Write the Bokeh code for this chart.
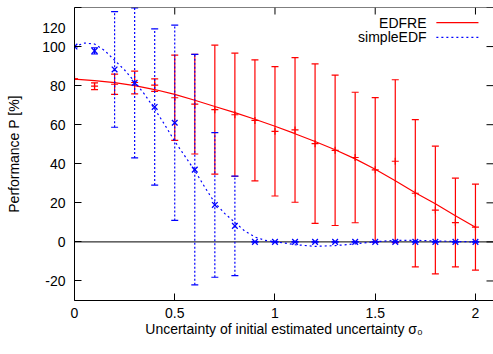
from bokeh.plotting import figure
from bokeh.models import (Range1d, FixedTicker, CustomJSTickFormatter,
                          ColumnDataSource, Span, Label, Arrow)
from bokeh.embed import file_html
from bokeh.resources import INLINE

# ---- data ----
x = [0.0, 0.1, 0.2, 0.3, 0.4, 0.5, 0.6, 0.7, 0.8, 0.9, 1.0,
     1.1, 1.2, 1.3, 1.4, 1.5, 1.6, 1.7, 1.8, 1.9, 2.0]
edfre = [83.3, 79.7, 80.7, 81.6, 80.3, 73.8, 70.5, 67.7, 65.1, 62.2, 56.6,
         57.3, 50.3, 46.9, 43.2, 36.9, 41.3, 24.9, 16.3, 9.9, 7.6]
edfre_err = [0, 1.7, 5.2, 5.8, 3.2, 21.8, 25.5, 33.0, 31.5, 31.0, 33.1,
             37.0, 40.8, 38.5, 33.4, 37.0, 41.7, 37.7, 32.7, 22.7, 22.0]
simple = [100.0, 97.8, 88.3, 81.4, 69.1, 61.0, 37.0, 18.9, 8.2, 0, 0,
          0, 0, 0, 0, 0, 0, 0, 0, 0, 0]
simple_err = [0, 1.6, 29.6, 38.4, 40.0, 50.0, 59.0, 37.0, 25.5, 0, 0,
              0, 0, 0, 0, 0, 0, 0, 0, 0, 0]

edfre_fit_x = [0.0, 0.1, 0.2, 0.3, 0.4, 0.5, 0.6, 0.7, 0.8, 0.9, 1.0,
               1.1, 1.2, 1.3, 1.4, 1.5, 1.6, 1.7, 1.8, 1.9, 2.0]
edfre_fit_y = [83.3, 82.6, 81.5, 80.0, 78.0, 75.5, 72.5, 69.3, 66.2, 62.8, 59.2,
               55.4, 51.4, 47.2, 42.5, 37.2, 31.3, 25.2, 19.5, 13.4, 7.5]
simple_fit_x = [0.0, 0.05, 0.1, 0.15, 0.2, 0.25, 0.3, 0.35, 0.4, 0.45, 0.5,
                0.55, 0.6, 0.65, 0.7, 0.75, 0.8, 0.85, 0.9, 0.95, 1.0,
                1.05, 1.1, 1.2, 1.3, 1.4, 1.5, 1.6, 1.7, 1.8, 1.9, 2.0]
simple_fit_y = [100.0, 101.8, 101.3, 98.0, 93.0, 88.0, 82.0, 75.5, 68.0, 60.0, 51.5,
                44.0, 36.5, 28.0, 20.0, 14.5, 10.0, 5.5, 2.5, 0.8, 0.0,
                -0.6, -1.4, -2.3, -1.9, -1.0, 0.1, 0.8, 0.8, 0.5, 0.2, 0.0]

xticks = [0, 0.5, 1, 1.5, 2]
yticks = [-20, 0, 20, 40, 60, 80, 100, 120]
series_names = ["EDFRE", "simpleEDF"]
x_title = "Uncertainty of initial estimated uncertainty σ₀"
y_title = "Performance P [%]"

X_MIN, X_MAX = 0, 2.09
Y_MIN, Y_MAX = -30, 120
FONT = "Liberation Sans"
RED = "#ff0000"
BLUE = "#0000ff"
PX_PER_Y = 293 / (Y_MAX - Y_MIN)
PX_PER_X = 419 / (X_MAX - X_MIN)

p = figure(width=493, height=354, x_range=Range1d(X_MIN, X_MAX), y_range=Range1d(Y_MIN, Y_MAX),
           output_backend="svg", toolbar_location=None,
           min_border_left=74, min_border_right=0, min_border_top=7, min_border_bottom=54)
p.outline_line_color = None
p.grid.visible = False
p.background_fill_color = "white"
p.border_fill_color = "white"

fmt = CustomJSTickFormatter(code="return tick.toString();")
# the label of the top tick (on the frame corner) is pushed down one half line, like gnuplot
yfmt = CustomJSTickFormatter(args=dict(top=Y_MAX),
                             code="return tick >= top ? '\\n' + tick.toString() : tick.toString();")

def style_axis(ax, ticks, formatter):
    ax.ticker = FixedTicker(ticks=ticks)
    ax.formatter = formatter
    ax.major_tick_in = 7
    ax.major_tick_out = 0
    ax.minor_tick_in = 0
    ax.minor_tick_out = 0
    ax.axis_line_color = "black"
    ax.major_tick_line_color = "black"
    ax.major_label_text_font = FONT
    ax.major_label_text_font_size = "14px"
    ax.major_label_text_color = "black"
    ax.axis_label_text_font = FONT
    ax.axis_label_text_font_size = "14px"
    ax.axis_label_text_font_style = "normal"
    ax.axis_label_text_color = "black"

style_axis(p.xaxis[0], xticks, fmt)
style_axis(p.yaxis[0], yticks, yfmt)
p.xaxis[0].axis_label = x_title
p.yaxis[0].axis_label = y_title
p.xaxis[0].major_label_standoff = 7
p.xaxis[0].axis_label_standoff = 0
p.yaxis[0].major_label_standoff = 9
p.yaxis[0].axis_label_standoff = 17

# top frame line with inward ticks, and right-edge inward ticks (mirror, gnuplot style)
p.add_layout(Span(location=Y_MAX, dimension="width", line_color="black", line_width=1))
tick_dy = 7 / PX_PER_Y
tick_dx = 7 / PX_PER_X
p.segment(x0=xticks, y0=[Y_MAX] * len(xticks), x1=xticks, y1=[Y_MAX - tick_dy] * len(xticks),
          line_color="black", line_width=1)
p.segment(x0=[X_MAX] * len(yticks), y0=yticks, x1=[X_MAX - tick_dx] * len(yticks), y1=yticks,
          line_color="black", line_width=1)

p.add_layout(Span(location=0, dimension="width", line_color="black", line_width=1,
                  level="underlay"))

# EDFRE
p.line(edfre_fit_x, edfre_fit_y, line_color=RED, line_width=1.2)
src_r = ColumnDataSource(dict(x=x, y=edfre,
                              lo=[m - e for m, e in zip(edfre, edfre_err)],
                              hi=[m + e for m, e in zip(edfre, edfre_err)]))
p.segment(x0="x", y0="lo", x1="x", y1="hi", source=src_r, line_color=RED, line_width=1.2)
p.scatter(x="x", y="lo", source=src_r, marker="dash", size=7, line_color=RED, line_width=1.2)
p.scatter(x="x", y="hi", source=src_r, marker="dash", size=7, line_color=RED, line_width=1.2)
p.scatter(x="x", y="y", source=src_r, marker="cross", size=7, line_color=RED, line_width=1.2)

# simpleEDF
p.line(simple_fit_x, simple_fit_y, line_color=BLUE, line_width=1.2, line_dash="2 3")
src_b = ColumnDataSource(dict(x=x, y=simple,
                              lo=[m - e for m, e in zip(simple, simple_err)],
                              hi=[m + e for m, e in zip(simple, simple_err)]))
p.segment(x0="x", y0="lo", x1="x", y1="hi", source=src_b, line_color=BLUE,
          line_width=1.2, line_dash="2 2")
p.scatter(x="x", y="lo", source=src_b, marker="dash", size=7, line_color=BLUE, line_width=1.2)
p.scatter(x="x", y="hi", source=src_b, marker="dash", size=7, line_color=BLUE, line_width=1.2)
p.scatter(x="x", y="y", source=src_b, marker="x", size=8, line_color=BLUE, line_width=1.3)

# legend (text right-aligned, sample line on the right, as in gnuplot)
for name, yy, col, dash in [(series_names[0], 112.3, RED, "solid"),
                            (series_names[1], 104.7, BLUE, "2 3")]:
    p.add_layout(Label(x=1.756, y=yy, text=name, text_align="right", text_baseline="middle",
                       text_font=FONT, text_font_size="14px", text_color="black"))
    p.add_layout(Arrow(x_start=1.805, y_start=yy, x_end=2.015, y_end=yy, end=None,
                       line_color=col, line_width=1.2, line_dash=dash))

open("out.html", "w").write(file_html(p, INLINE))
